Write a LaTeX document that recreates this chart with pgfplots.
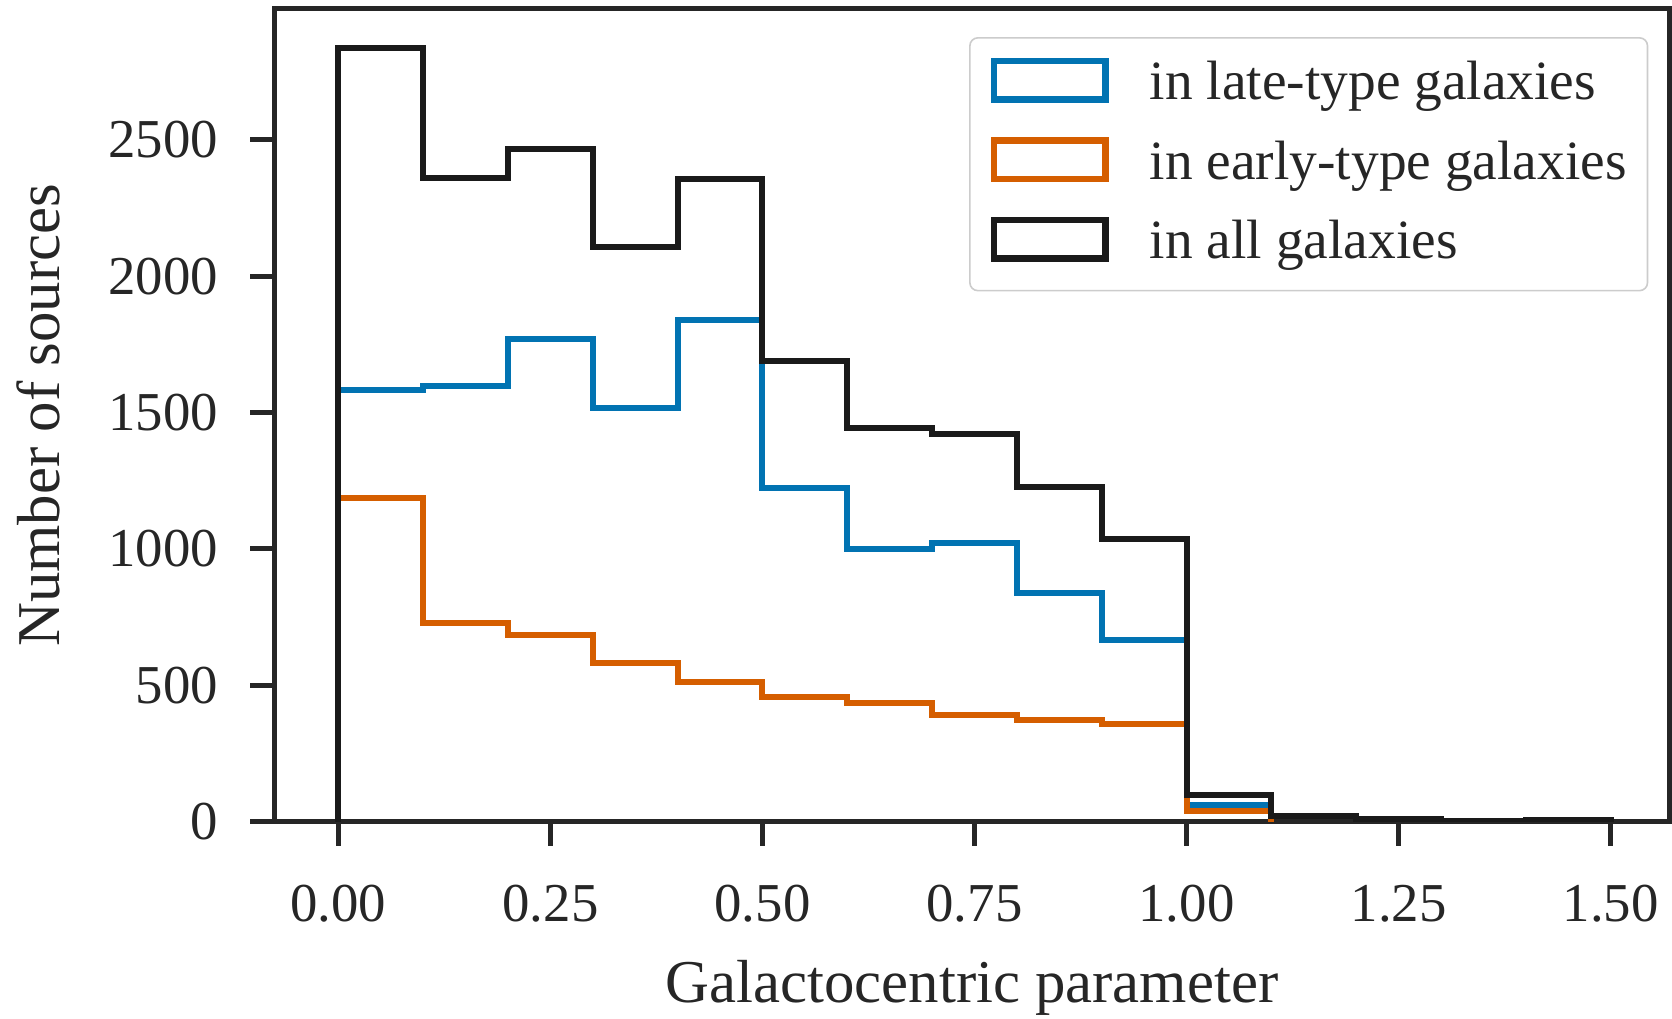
\documentclass[border=0pt]{standalone}
\usepackage{fontspec}
\setmainfont{Liberation Serif}
\usepackage{pgfplots}
\pgfplotsset{compat=1.18}

\definecolor{lateblue}{HTML}{0173B2}
\definecolor{earlyorange}{HTML}{D55E00}
\definecolor{allblack}{HTML}{1A1A1A}
\definecolor{axisgray}{HTML}{262626}
\definecolor{framegray}{HTML}{CCCCCC}

\newcommand{\ticksize}{\fontsize{13.7}{16}\selectfont}
\newcommand{\legendsize}{\fontsize{13.85}{16}\selectfont}
\newcommand{\labelsize}{\fontsize{15.2}{18}\selectfont}

\begin{document}
\begin{tikzpicture}
\begin{axis}[
  name=ax,
  scale only axis,
  width=348.78pt, height=203.18pt,
  xmin=-0.0755, xmax=1.5695,
  ymin=0, ymax=2980,
  axis line style={axisgray, line width=1.25pt, line join=miter},
  tick style={axisgray, line width=1.25pt},
  tick align=outside,
  tick pos=left,
  major tick length=6pt,
  xtick={0,0.25,0.5,0.75,1,1.25,1.5},
  ytick={0,500,1000,1500,2000,2500},
  scaled ticks=false,
  /pgf/number format/assume math mode=true,
  /pgf/number format/1000 sep={},
  every tick label/.append style={font=\ticksize, text=axisgray, inner sep=0pt},
  xticklabel style={anchor=base, yshift=-19.05pt,
    /pgf/number format/fixed, /pgf/number format/fixed zerofill,
    /pgf/number format/precision=2},
  yticklabel style={anchor=east, xshift=-7.85pt},
  xlabel={Galactocentric parameter},
  ylabel={Number of sources},
  every axis x label/.style={at={(axis description cs:0.5,-0.2230)}, anchor=base,
    font=\labelsize, text=axisgray, inner sep=0pt},
  every axis y label/.style={at={(axis description cs:-0.1543,0.5)}, rotate=90, anchor=base,
    font=\labelsize, text=axisgray, inner sep=0pt},
  legend style={at={(axis description cs:0.9848,0.9655)}, anchor=north east,
    draw=framegray, line width=0.4pt, rounded corners=2pt, fill=white,
    inner xsep=5.2pt, inner ysep=5pt, row sep=6.5pt, column sep=10.3pt,
    font=\legendsize, text=axisgray,
    nodes={inner sep=0pt, text height=9.6pt, text depth=3pt},
    cells={anchor=base west}},
  legend image code/.code={
    \draw[sharp corners, line width=1.6pt, line join=miter] (0pt,0pt) rectangle (27.9pt,9.6pt);},
]

% step outlines: value of each 0.1-wide bin at its left edge
\addplot[const plot, lateblue, line width=1.5pt, line join=miter] coordinates {
  (0,0) (0,1584) (0.1,1598) (0.2,1771) (0.3,1518) (0.4,1839) (0.5,1222)
  (0.6,999) (0.7,1022) (0.8,840) (0.9,668) (1.0,60) (1.1,60) (1.1,0)};
\addlegendentry{in late-type galaxies}

\addplot[const plot, earlyorange, line width=1.5pt, line join=miter] coordinates {
  (0,0) (0,1188) (0.1,730) (0.2,686) (0.3,582) (0.4,514) (0.5,458)
  (0.6,436) (0.7,391) (0.8,373) (0.9,359) (1.0,40) (1.1,40) (1.1,0)};
\addlegendentry{in early-type galaxies}

\addplot[const plot, allblack, line width=1.5pt, line join=miter] coordinates {
  (0,0) (0,2838) (0.1,2362) (0.2,2468) (0.3,2108) (0.4,2356) (0.5,1689)
  (0.6,1445) (0.7,1423) (0.8,1227) (0.9,1036) (1.0,98) (1.1,20) (1.2,11)
  (1.3,3) (1.4,6) (1.5,6) (1.5,0)};
\addlegendentry{in all galaxies}

\end{axis}
\pgfresetboundingbox
\path ([xshift=-68.6pt,yshift=-49.08pt]ax.south west) rectangle ([xshift=0.625pt,yshift=2.25pt]ax.north east);
\end{tikzpicture}
\end{document}
